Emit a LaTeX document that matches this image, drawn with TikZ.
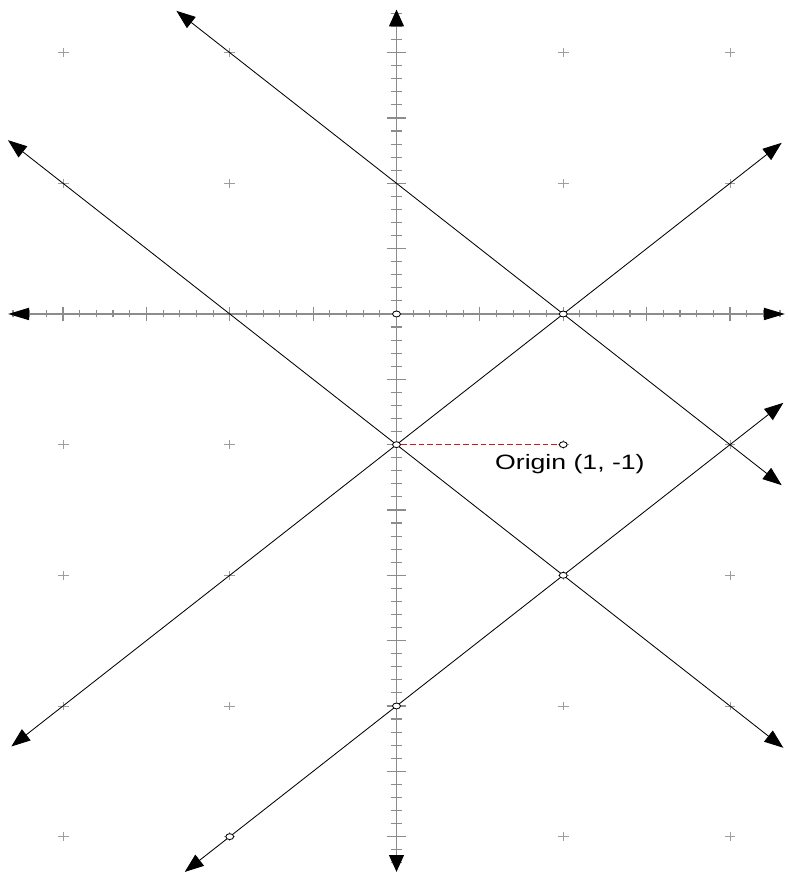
\documentclass[tikz,border=0pt]{standalone}
\usepackage{fontspec}
\setmainfont{Liberation Sans}
\usetikzlibrary{arrows.meta,shapes.geometric}
\definecolor{axisgray}{HTML}{8C8C8C}
\definecolor{dashred}{HTML}{D01818}

\begin{document}
\begin{tikzpicture}[x=4.169cm,y=3.267cm,
  >={Triangle[length=13.5pt,width=10pt]},
  axis/.style={draw=axisgray,line width=1.4pt},
  xaxis/.style={axis,{Triangle[length=15pt,width=8.5pt,color=black]}-{Triangle[length=15pt,width=8.5pt,color=black]}},
  yaxis/.style={axis,{Triangle[length=12pt,width=10.5pt,color=black]}-{Triangle[length=12pt,width=10.5pt,color=black]}},
  tick/.style={draw=axisgray,line width=.8pt},
  gridmark/.style={draw=axisgray!85,line width=.6pt},
  graphline/.style={draw=black,line width=.6pt,<->},
  pt/.style={ellipse,draw=black,fill=white,line width=.6pt,inner sep=0pt,
    minimum width=5.6pt,minimum height=4.2pt}]
  \useasboundingbox (-2.378,-4.286) rectangle (2.348,2.403);
  % grid crosses
  \foreach \x in {-2,-1,1,2}
    \foreach \y in {2,1,-1,-2,-3,-4}
      \draw[gridmark] (\x,\y) ++(-3.9pt,0pt) -- ++(7.8pt,0pt)
                      (\x,\y) ++(0pt,-3pt) -- ++(0pt,6pt);
  % axis ticks
  \foreach \i in {-23,...,23}{
    \pgfmathsetmacro\tl{mod(\i,5)==0 ? 5 : 2.5}
    \draw[tick] (\i/10,0) ++(0pt,-\tl pt) -- ++(0pt,2*\tl pt);
  }
  \foreach \i in {-42,...,23}{
    \pgfmathsetmacro\tl{mod(\i,5)==0 ? 7 : 4.25}
    \draw[tick] (0,\i/10) ++(-\tl pt,0pt) -- ++(2*\tl pt,0pt);
  }
  \coordinate (xl) at (-2.33,0);
  \coordinate (xr) at (2.33,0);
  \coordinate (yt) at (0,2.33);
  \coordinate (yb) at (0,-4.27);
  \draw[xaxis] (xl) -- (xr);
  \draw[yaxis] (yb) -- (yt);
  % lines
  \coordinate (aa) at (-2.31,-3.31);
  \coordinate (ab) at (2.31,1.31);
  \coordinate (ba) at (-1.32,2.32);
  \coordinate (bb) at (2.31,-1.31);
  \coordinate (ca) at (-2.33,1.33);
  \coordinate (cb) at (2.32,-3.32);
  \coordinate (da) at (-1.27,-4.27);
  \coordinate (db) at (2.32,-.68);
  \draw[graphline] (aa) -- (ab);
  \draw[graphline] (ba) -- (bb);
  \draw[graphline] (ca) -- (cb);
  \draw[graphline] (da) -- (db);
  % points
  \node[pt] (o) at (0,0) {};
  \node[pt] (p1) at (1,0) {};
  \node[pt] (p2) at (0,-1) {};
  \node[pt] (p3) at (1,-2) {};
  \node[pt] (p4) at (0,-3) {};
  \node[pt] (p5) at (-1,-4) {};
  \draw[dashred,line width=.7pt,dash pattern=on 4.2pt off 2.1pt] (p2) -- (1,-1);
  \node[pt] (org) at (1,-1) {};
  \node[font=\fontsize{14.8}{17}\selectfont,xscale=1.28,anchor=base] (lbl) at (1.04,-1.194) {Origin (1, -1)};
\end{tikzpicture}
\end{document}
